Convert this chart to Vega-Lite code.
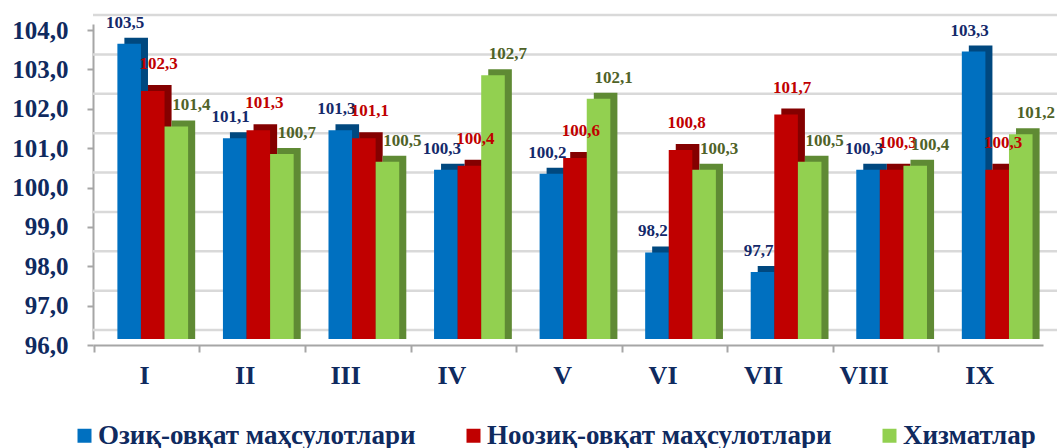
{
  "$schema": "https://vega.github.io/schema/vega-lite/v6.json",
  "width": 950,
  "height": 315,
  "autosize": {"type": "none"},
  "padding": {"left": 93, "top": 24, "right": 18, "bottom": 109},
  "background": "white",
  "config": {
    "locale": {"number": {"decimal": ",", "thousands": " ", "grouping": [3], "currency": ["", ""]}},
    "view": {"stroke": null},
    "font": "Liberation Serif"
  },
  "datasets": {
    "bars": [
      {"month": "I", "series": "Озиқ-овқат маҳсулотлари", "value": 103.5},
      {"month": "II", "series": "Озиқ-овқат маҳсулотлари", "value": 101.1},
      {"month": "III", "series": "Озиқ-овқат маҳсулотлари", "value": 101.3},
      {"month": "IV", "series": "Озиқ-овқат маҳсулотлари", "value": 100.3},
      {"month": "V", "series": "Озиқ-овқат маҳсулотлари", "value": 100.2},
      {"month": "VI", "series": "Озиқ-овқат маҳсулотлари", "value": 98.2},
      {"month": "VII", "series": "Озиқ-овқат маҳсулотлари", "value": 97.7},
      {"month": "VIII", "series": "Озиқ-овқат маҳсулотлари", "value": 100.3},
      {"month": "IX", "series": "Озиқ-овқат маҳсулотлари", "value": 103.3},
      {"month": "I", "series": "Ноозиқ-овқат маҳсулотлари", "value": 102.3},
      {"month": "II", "series": "Ноозиқ-овқат маҳсулотлари", "value": 101.3},
      {"month": "III", "series": "Ноозиқ-овқат маҳсулотлари", "value": 101.1},
      {"month": "IV", "series": "Ноозиқ-овқат маҳсулотлари", "value": 100.4},
      {"month": "V", "series": "Ноозиқ-овқат маҳсулотлари", "value": 100.6},
      {"month": "VI", "series": "Ноозиқ-овқат маҳсулотлари", "value": 100.8},
      {"month": "VII", "series": "Ноозиқ-овқат маҳсулотлари", "value": 101.7},
      {"month": "VIII", "series": "Ноозиқ-овқат маҳсулотлари", "value": 100.3},
      {"month": "IX", "series": "Ноозиқ-овқат маҳсулотлари", "value": 100.3},
      {"month": "I", "series": "Хизматлар", "value": 101.4},
      {"month": "II", "series": "Хизматлар", "value": 100.7},
      {"month": "III", "series": "Хизматлар", "value": 100.5},
      {"month": "IV", "series": "Хизматлар", "value": 102.7},
      {"month": "V", "series": "Хизматлар", "value": 102.1},
      {"month": "VI", "series": "Хизматлар", "value": 100.3},
      {"month": "VII", "series": "Хизматлар", "value": 100.5},
      {"month": "VIII", "series": "Хизматлар", "value": 100.4},
      {"month": "IX", "series": "Хизматлар", "value": 101.2}
    ],
    "grid": [{"g": 96}, {"g": 97}, {"g": 98}, {"g": 99}, {"g": 100}, {"g": 101}, {"g": 102}, {"g": 103}, {"g": 104}]
  },
  "data": {"name": "bars"},
  "resolve": {"scale": {"color": "independent", "xOffset": "independent"}},
  "layer": [
    {
      "data": {"name": "grid"},
      "mark": {"type": "rule", "color": "#d9d9d9", "strokeWidth": 2.5, "xOffset": 14, "yOffset": -9},
      "encoding": {
        "y": {"field": "g", "type": "quantitative", "scale": {"domain": [96, 104], "nice": false, "zero": false},
              "axis": {"title": null, "values": [96, 97, 98, 99, 100, 101, 102, 103, 104], "tickCount": 9, "format": ".1f", "grid": false,
                       "labelOverlap": false,
                       "labelFont": "Liberation Serif", "labelFontWeight": "bold", "labelFontSize": 25, "labelColor": "#0f2a5f",
                       "labelPadding": 19, "tickOffset": 6, "tickSize": 6, "tickColor": "#a6a6a6", "tickWidth": 2,
                       "domainColor": "#a6a6a6", "domainWidth": 2}}
      }
    },
    {
      "mark": {"type": "bar", "yOffset": -6},
      "encoding": {
        "x": {"field": "month", "type": "nominal", "sort": ["I","II","III","IV","V","VI","VII","VIII","IX"],
              "scale": {"paddingInner": 0.33, "paddingOuter": 0.165, "align": 0.7}},
        "xOffset": {"field": "series", "type": "nominal",
                    "scale": {"domain": ["Озиқ-овқат маҳсулотлари", "Ноозиқ-овқат маҳсулотлари", "Хизматлар"], "range": [7, 77.8]}},
        "y": {"field": "value", "type": "quantitative"},
        "y2": {"datum": 96},
        "color": {"field": "series", "type": "nominal",
                  "scale": {"domain": ["Озиқ-овқат маҳсулотлари", "Ноозиқ-овқат маҳсулотлари", "Хизматлар"], "range": ["#00487f", "#840000", "#5f8a34"]},
                  "legend": null}
      }
    },
    {
      "mark": {"type": "bar"},
      "encoding": {
        "x": {"field": "month", "type": "nominal", "sort": ["I","II","III","IV","V","VI","VII","VIII","IX"],
              "axis": {"title": null, "labelAngle": 0, "labelFont": "Liberation Serif", "labelFontWeight": "bold", "labelFontSize": 26,
                       "labelColor": "#0f2a5f", "labelPadding": 23, "labelOffset": -3, "offset": 6,
                       "domainColor": "#a6a6a6", "domainWidth": 2, "tickColor": "#a6a6a6", "tickWidth": 2, "tickSize": 7,
                       "bandPosition": -0.325, "grid": false}},
        "xOffset": {"field": "series", "type": "nominal",
                    "scale": {"domain": ["Озиқ-овқат маҳсулотлари", "Ноозиқ-овқат маҳсулотлари", "Хизматлар"]}},
        "y": {"field": "value", "type": "quantitative"},
        "y2": {"datum": 96},
        "color": {"field": "series", "type": "nominal",
                  "scale": {"domain": ["Озиқ-овқат маҳсулотлари", "Ноозиқ-овқат маҳсулотлари", "Хизматлар"], "range": ["#0070c0", "#c00000", "#92d050"]},
                  "legend": {"title": null, "orient": "none", "direction": "horizontal", "legendX": -22, "legendY": 398,
                             "symbolType": "square", "symbolSize": 196, "symbolStrokeWidth": 0, "symbolOpacity": 1,
                             "labelFont": "Liberation Serif", "labelFontWeight": "bold", "labelFontSize": 27, "labelColor": "#0f2a5f",
                             "labelOffset": 0, "labelLimit": 600, "columnPadding": 44, "padding": 0}}
      }
    },
    {
      "transform": [{"filter": "datum.series === 'Озиқ-овқат маҳсулотлари'"}],
      "mark": {"type": "text", "font": "Liberation Serif", "fontWeight": "bold", "fontSize": 17, "baseline": "alphabetic", "dy": -16, "dx": -4, "color": "#14296a"},
      "encoding": {
        "x": {"field": "month", "type": "nominal", "sort": ["I","II","III","IV","V","VI","VII","VIII","IX"]},
        "xOffset": {"field": "series", "type": "nominal",
                    "scale": {"domain": ["Озиқ-овқат маҳсулотлари", "Ноозиқ-овқат маҳсулотлари", "Хизматлар"]}},
        "y": {"field": "value", "type": "quantitative"},
        "text": {"field": "value", "type": "quantitative", "format": ".1f"}
      }
    },
    {
      "transform": [{"filter": "datum.series === 'Ноозиқ-овқат маҳсулотлари'"}],
      "mark": {"type": "text", "font": "Liberation Serif", "fontWeight": "bold", "fontSize": 17, "baseline": "alphabetic", "dy": -22, "dx": 6, "color": "#c00000"},
      "encoding": {
        "x": {"field": "month", "type": "nominal", "sort": ["I","II","III","IV","V","VI","VII","VIII","IX"]},
        "xOffset": {"field": "series", "type": "nominal",
                    "scale": {"domain": ["Озиқ-овқат маҳсулотлари", "Ноозиқ-овқат маҳсулотлари", "Хизматлар"]}},
        "y": {"field": "value", "type": "quantitative"},
        "text": {"field": "value", "type": "quantitative", "format": ".1f"}
      }
    },
    {
      "transform": [{"filter": "datum.series === 'Хизматлар'"}],
      "mark": {"type": "text", "font": "Liberation Serif", "fontWeight": "bold", "fontSize": 17, "baseline": "alphabetic", "dy": -16, "dx": 15, "color": "#4f6228"},
      "encoding": {
        "x": {"field": "month", "type": "nominal", "sort": ["I","II","III","IV","V","VI","VII","VIII","IX"]},
        "xOffset": {"field": "series", "type": "nominal",
                    "scale": {"domain": ["Озиқ-овқат маҳсулотлари", "Ноозиқ-овқат маҳсулотлари", "Хизматлар"]}},
        "y": {"field": "value", "type": "quantitative"},
        "text": {"field": "value", "type": "quantitative", "format": ".1f"}
      }
    }
  ]
}
